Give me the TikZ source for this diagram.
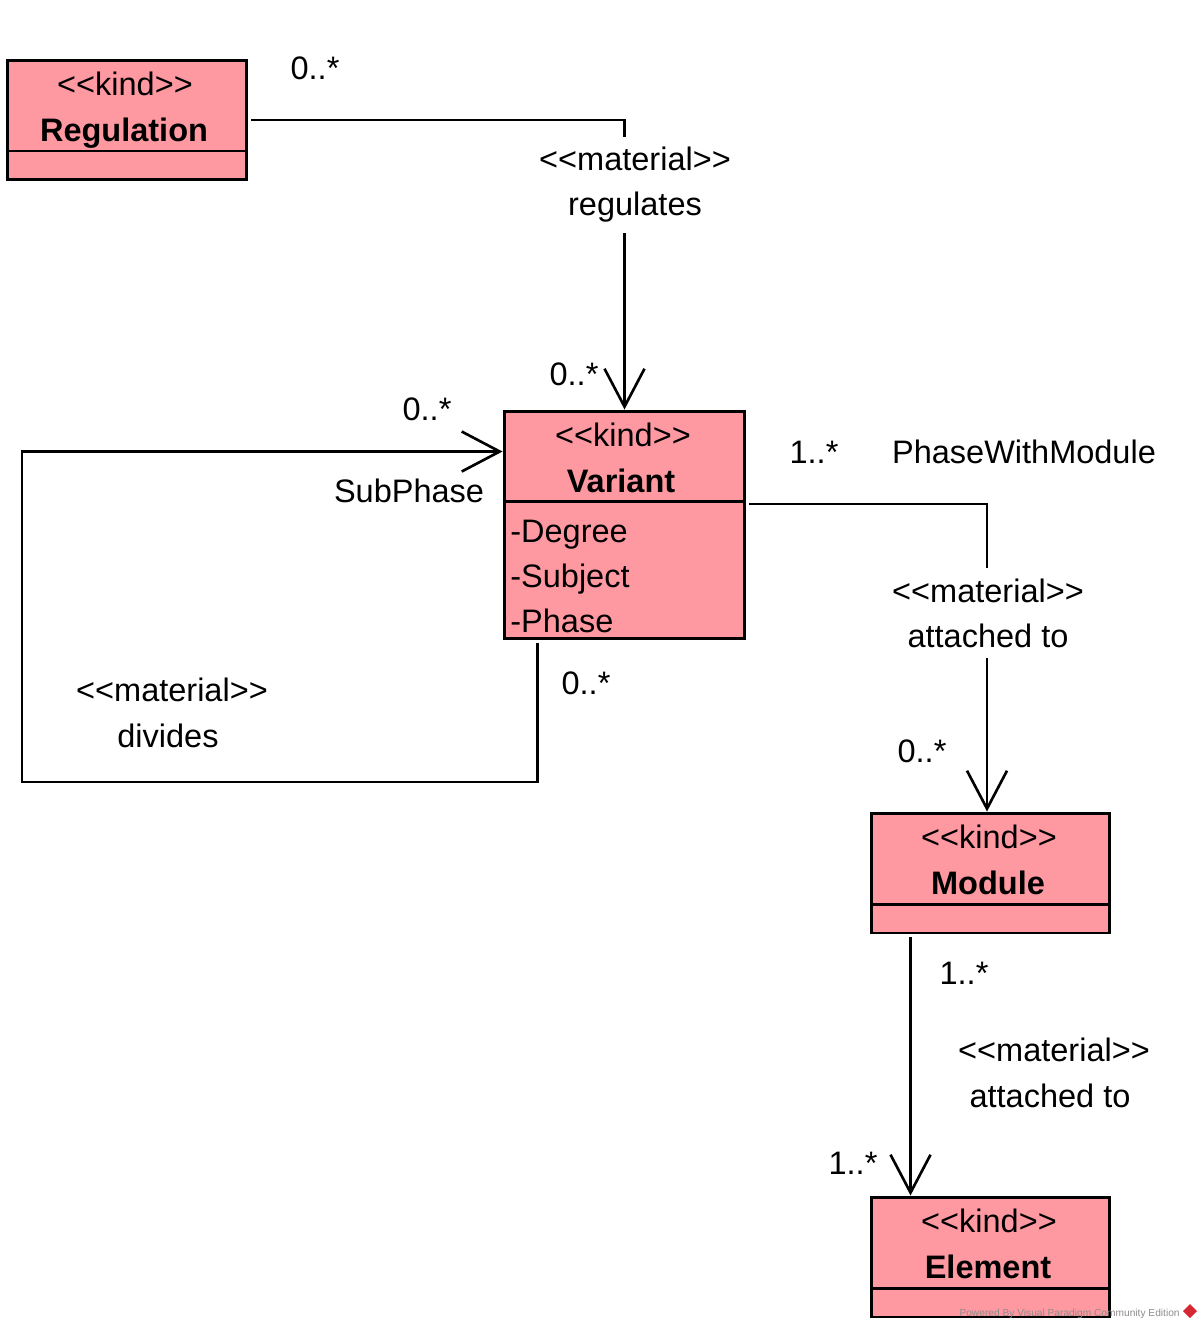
\documentclass[tikz,border=0pt]{standalone}
\usepackage{fontspec}
\setmainfont{Liberation Sans}
\usetikzlibrary{arrows.meta}
\definecolor{classpink}{RGB}{255,153,161}
\definecolor{vpgray}{RGB}{140,140,140}
\definecolor{vpred}{RGB}{214,40,50}
\newcommand\umlfont{\fontsize{18.5pt}{25.6pt}\selectfont}
\newcommand\stereo[1]{<\kern0pt<#1>\kern0pt>}
\tikzset{
  umlclass/.style={draw, fill=classpink, line width=1.7pt, inner sep=0pt, minimum width=4.8cm, minimum height=2.4cm},
  divider/.style={line width=1.7pt},
  link/.style={line width=1.5pt},
  assoc/.style={link, -{Straight Barb[length=0.76cm, width=0.8cm, line width=1.5pt]}},
  lbl/.style={anchor=base, inner sep=0pt, font=\umlfont},
  clsname/.style={lbl, font=\umlfont\bfseries},
  attr/.style={lbl, anchor=base west},
  onlink/.style={fill=white, align=center, inner xsep=4pt, inner ysep=6pt, font=\umlfont},
}

\begin{document}
\begin{tikzpicture}[x=0.02cm, y=-0.02cm]
    \useasboundingbox (0,0) rectangle (1203,1329);

    \node[umlclass] (reg) at (127,120) {};
    \node[umlclass, minimum width=4.82cm, minimum height=4.56cm] (var) at (624.5,525) {};
    \node[umlclass, minimum width=4.78cm] (mod) at (990.5,873) {};
    \node[umlclass, minimum width=4.78cm] (el) at (990.5,1257) {};
    \draw[divider] (reg.west |- 0,151) -- (reg.east |- 0,151);
    \draw[divider] (var.west |- 0,501) -- (var.east |- 0,501);
    \draw[divider] (mod.west |- 0,904) -- (mod.east |- 0,904);
    \draw[divider] (el.west |- 0,1288) -- (el.east |- 0,1288);

    \node[lbl] (regst) at (125,95) {\stereo{kind}};
    \node[clsname] (regnm) at (124,141) {Regulation};
    \node[lbl] (varst) at (623,446) {\stereo{kind}};
    \node[clsname] (varnm) at (621,492) {Variant};
    \node[attr] (deg) at (510,542) {-Degree};
    \node[attr] (subj) at (510,587) {-Subject};
    \node[attr] (phase) at (510,632) {-Phase};
    \node[lbl] (modst) at (989,848) {\stereo{kind}};
    \node[clsname] (modnm) at (988,894) {Module};
    \node[lbl] (elst) at (989,1232) {\stereo{kind}};
    \node[clsname] (elnm) at (988,1278) {Element};

    \draw[assoc] ([xshift=0.06cm]reg.east) -| (var.north);
    \draw[assoc] ([xshift=0.7cm,yshift=-0.06cm]var.south west) |- (22,782) |- ([yshift=-0.84cm]var.north west);
    \draw[assoc] ([yshift=0.42cm,xshift=0.06cm]var.east) -| ([xshift=-0.07cm]mod.north);
    \draw[assoc] ([xshift=0.82cm,yshift=-0.06cm]mod.south west) -- ([xshift=0.82cm]el.north west);

    \node[onlink] (regs) at (635,185) {\stereo{material}\\regulates};
    \node[onlink] (att1) at (988,613) {\stereo{material}\\attached to};

    \node[lbl] (m1) at (315,79) {0..*};
    \node[lbl] (m2) at (574,385) {0..*};
    \node[lbl] (m3) at (427,420) {0..*};
    \node[lbl] (subph) at (409,502) {SubPhase};
    \node[lbl] (divst) at (172,701) {\stereo{material}};
    \node[lbl] (divnm) at (168,747) {divides};
    \node[lbl] (m4) at (586,694) {0..*};
    \node[lbl] (m5) at (814,463) {1..*};
    \node[lbl] (pwm) at (1024,463) {PhaseWithModule};
    \node[lbl] (m6) at (922,762) {0..*};
    \node[lbl] (m7) at (964,984) {1..*};
    \node[lbl] (att2st) at (1054,1061) {\stereo{material}};
    \node[lbl] (att2nm) at (1050,1107) {attached to};
    \node[lbl] (m8) at (853,1174) {1..*};

    \node[anchor=base east, inner sep=0pt, text=vpgray, font=\fontsize{5.8pt}{7pt}\selectfont] (vp) at (1180,1316) {Powered By Visual Paradigm Community Edition};
    \fill[vpred] (1190,1304) -- (1197,1311) -- (1190,1318) -- (1183,1311) -- cycle;
\end{tikzpicture}
\end{document}
